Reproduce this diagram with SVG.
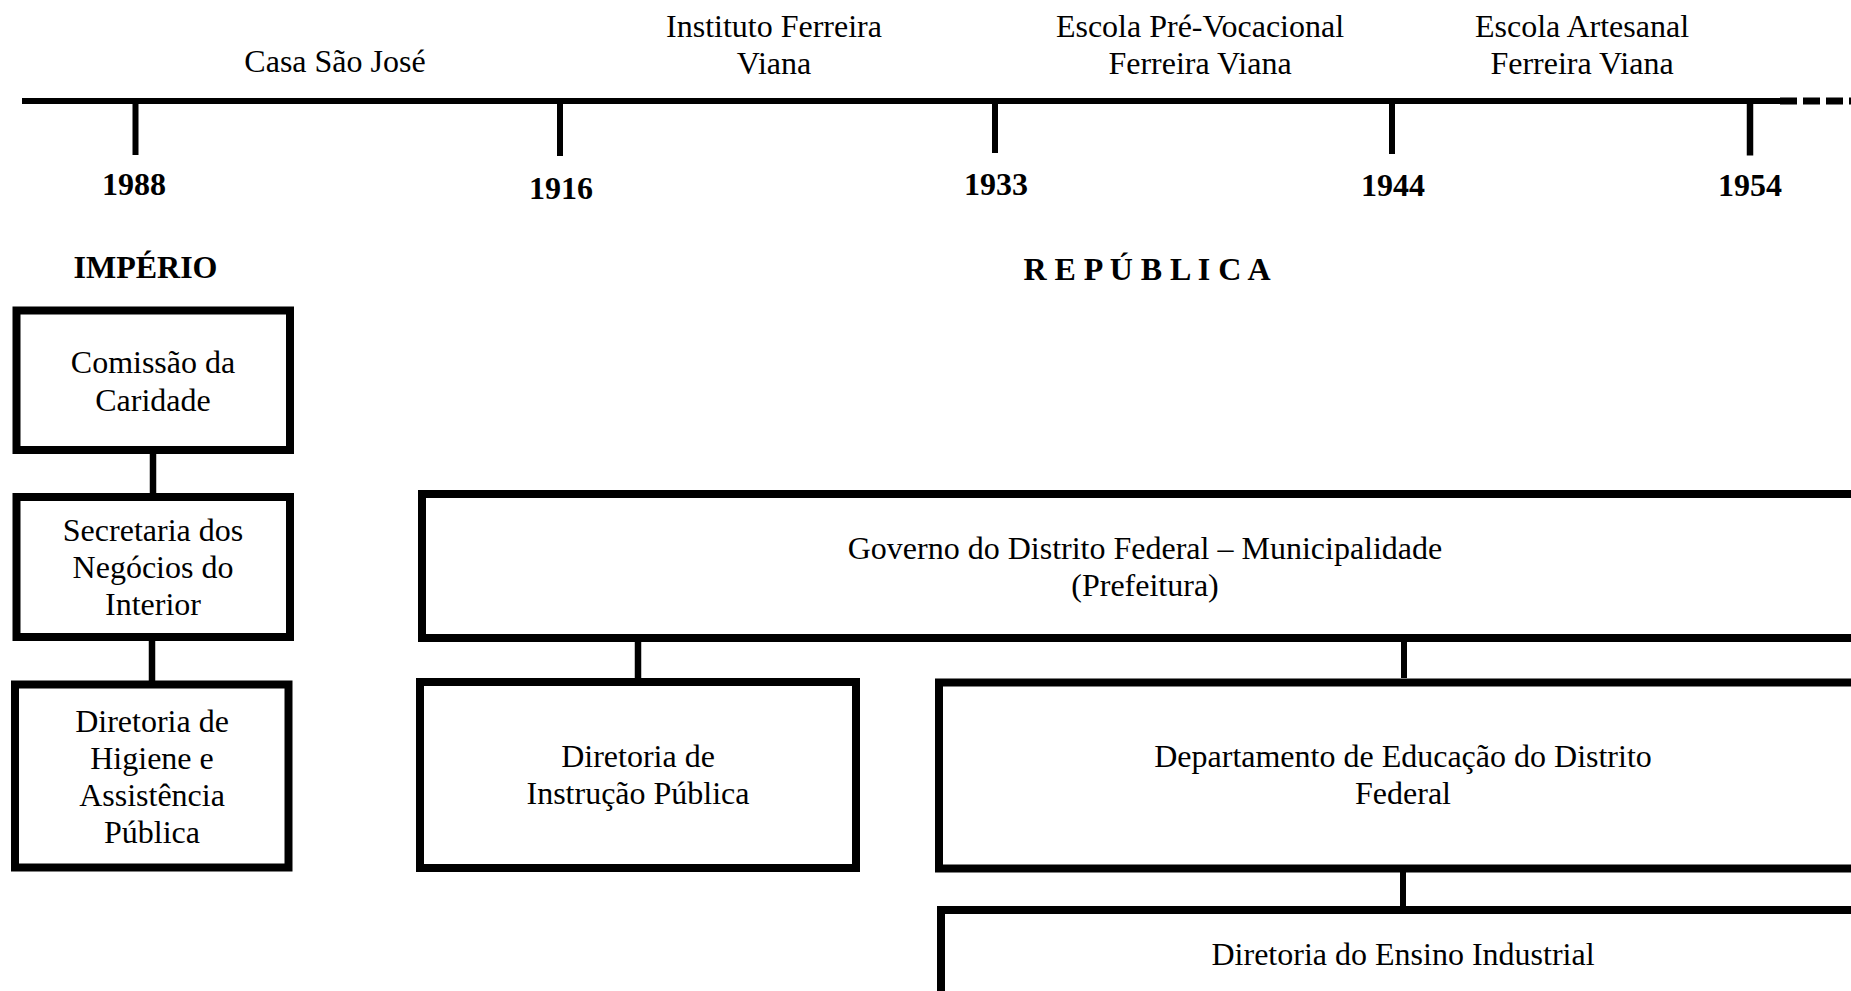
<svg xmlns="http://www.w3.org/2000/svg" width="1851" height="991" viewBox="0 0 1851 991">
<style>
text{font-family:"Liberation Serif","Times New Roman",serif;font-size:32px;fill:#000;text-anchor:middle}
.b{font-weight:bold}
.box{fill:#fff;stroke:#000;stroke-width:8}
.ln{stroke:#000;fill:none}
</style>
<rect width="1851" height="991" fill="#fff"/>
<g id="timeline">
<line class="ln" x1="22" y1="101" x2="1780" y2="101" stroke-width="6"/>
<line class="ln" x1="1780" y1="101" x2="1851" y2="101" stroke-width="7" stroke-dasharray="17 6"/>
<line class="ln" x1="135.5" y1="101" x2="135.5" y2="155" stroke-width="6"/>
<line class="ln" x1="560" y1="101" x2="560" y2="156" stroke-width="6"/>
<line class="ln" x1="995" y1="101" x2="995" y2="153" stroke-width="6"/>
<line class="ln" x1="1392" y1="101" x2="1392" y2="154" stroke-width="6"/>
<line class="ln" x1="1750" y1="101" x2="1750" y2="155.5" stroke-width="6.5"/>
<text x="335" y="72">Casa São José</text>
<text x="774" y="36.5">Instituto Ferreira</text>
<text x="774" y="73.5">Viana</text>
<text x="1200" y="36.5">Escola Pré-Vocacional</text>
<text x="1200" y="73.5">Ferreira Viana</text>
<text x="1582" y="36.5">Escola Artesanal</text>
<text x="1582" y="73.5">Ferreira Viana</text>
<text class="b" x="134" y="195">1988</text>
<text class="b" x="561" y="199">1916</text>
<text class="b" x="996" y="195">1933</text>
<text class="b" x="1393" y="196">1944</text>
<text class="b" x="1750" y="196">1954</text>
<text class="b" x="145.5" y="278">IMPÉRIO</text>
<text class="b" x="1147" y="280">R E P Ú B L I C A</text>
</g>
<g id="connectors">
<line class="ln" x1="153" y1="454" x2="153" y2="493" stroke-width="6.5"/>
<line class="ln" x1="152" y1="641" x2="152" y2="681" stroke-width="6.5"/>
<line class="ln" x1="638" y1="642" x2="638" y2="678" stroke-width="6.5"/>
<line class="ln" x1="1404" y1="642" x2="1404" y2="678" stroke-width="6"/>
<line class="ln" x1="1403" y1="872" x2="1403" y2="906" stroke-width="6"/>
</g>
<g id="comissao">
<rect class="box" x="16.5" y="310.5" width="273.5" height="139.5"/>
<text x="153" y="373">Comissão da</text>
<text x="153" y="410.5">Caridade</text>
</g>
<g id="secretaria">
<rect class="box" x="16.5" y="497" width="273.5" height="140"/>
<text x="153" y="541">Secretaria dos</text>
<text x="153" y="578">Negócios do</text>
<text x="153" y="615">Interior</text>
</g>
<g id="higiene">
<rect class="box" x="15" y="684.5" width="273.5" height="183"/>
<text x="152" y="732">Diretoria de</text>
<text x="152" y="769">Higiene e</text>
<text x="152" y="806">Assistência</text>
<text x="152" y="843">Pública</text>
</g>
<g id="governo">
<rect class="box" x="422" y="494" width="1446" height="144"/>
<text x="1145" y="559">Governo do Distrito Federal – Municipalidade</text>
<text x="1145" y="596">(Prefeitura)</text>
</g>
<g id="instrucao">
<rect class="box" x="420" y="682" width="436" height="186"/>
<text x="638" y="767">Diretoria de</text>
<text x="638" y="804">Instrução Pública</text>
</g>
<g id="departamento">
<rect class="box" x="939" y="682.5" width="929" height="186"/>
<text x="1403" y="767">Departamento de Educação do Distrito</text>
<text x="1403" y="804">Federal</text>
</g>
<g id="ensino">
<rect class="box" x="941" y="910" width="927" height="120"/>
<text x="1403" y="965">Diretoria do Ensino Industrial</text>
</g>
</svg>
